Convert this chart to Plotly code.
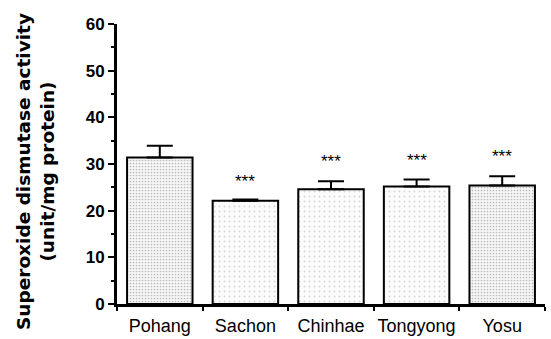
import plotly.graph_objects as go

sites = ["Pohang", "Sachon", "Chinhae", "Tongyong", "Yosu"]
sod_activity = [31.4, 22.1, 24.6, 25.2, 25.4]
sem = [2.5, 0.3, 1.7, 1.5, 2.0]
signif = ["", "***", "***", "***", "***"]
signif_y = [0, 27.2, 31.3, 31.7, 32.4]
y_ticks = [0, 10, 20, 30, 40, 50, 60]

dense = dict(shape=".", fgcolor="#808080", bgcolor="#f6f6f6", size=3, solidity=0.25)
light = dict(shape=".", fgcolor="#b0b0b0", bgcolor="#fcfcfc", size=5, solidity=0.12)
patterns = [dense, light, light, light, dense]

fig = go.Figure()
fig.add_trace(go.Bar(
    x=sites, y=sod_activity,
    marker=dict(
        color="white",
        line=dict(color="black", width=2),
        pattern=dict(
            shape=[p["shape"] for p in patterns],
            fgcolor=[p["fgcolor"] for p in patterns],
            bgcolor=[p["bgcolor"] for p in patterns],
            size=[p["size"] for p in patterns],
            solidity=[p["solidity"] for p in patterns],
        ),
    ),
    error_y=dict(type="data", array=sem, arrayminus=[0] * len(sem), symmetric=False,
                 color="black", thickness=2, width=13),
    showlegend=False,
    hoverinfo="skip",
))

for s, t, yv in zip(sites, signif, signif_y):
    if t:
        fig.add_annotation(x=s, y=yv, text=t, showarrow=False, yanchor="middle",
                           yshift=-4, font=dict(family="Liberation Sans, Arial", size=17, color="black"))

# y-axis title placed as rotated text left of the tick labels
fig.add_annotation(
    xref="paper", yref="paper", x=-0.1916, y=0.475, xanchor="center", yanchor="middle",
    text="Superoxide dismutase activity<br>(unit/mg protein)", textangle=-90, showarrow=False,
    font=dict(size=18.5, family="DejaVu Sans", weight="bold", color="black"),
)

fig.update_layout(
    width=551, height=339,
    margin=dict(l=117, r=6, t=24, b=35, autoexpand=False),
    paper_bgcolor="white", plot_bgcolor="white",
    bargap=0.235,
    font=dict(family="Liberation Sans, Arial", color="black"),
)
fig.update_xaxes(
    type="category", range=[-0.5, 4.5], automargin=False, tickangle=0,
    showline=True, linecolor="black", linewidth=3,
    ticks="outside", tickson="boundaries", ticklen=4, tickwidth=2, tickcolor="black",
    tickfont=dict(size=18, family="Liberation Sans, Arial"), ticklabelstandoff=3,
    showgrid=False, zeroline=False,
)
fig.update_yaxes(
    range=[0, 60], tickvals=y_ticks, automargin=False,
    showline=True, linecolor="black", linewidth=3,
    ticks="outside", ticklen=6, tickwidth=2, tickcolor="black",
    minor=dict(dtick=5, ticks="outside", ticklen=3, tickwidth=2, tickcolor="black", showgrid=False),
    tickfont=dict(size=17, family="Liberation Sans, Arial", weight="bold"),
    showgrid=False, zeroline=False,
)
fig.write_html("out.html", config={"displayModeBar": False},
               post_script="document.body.style.margin='0';")
